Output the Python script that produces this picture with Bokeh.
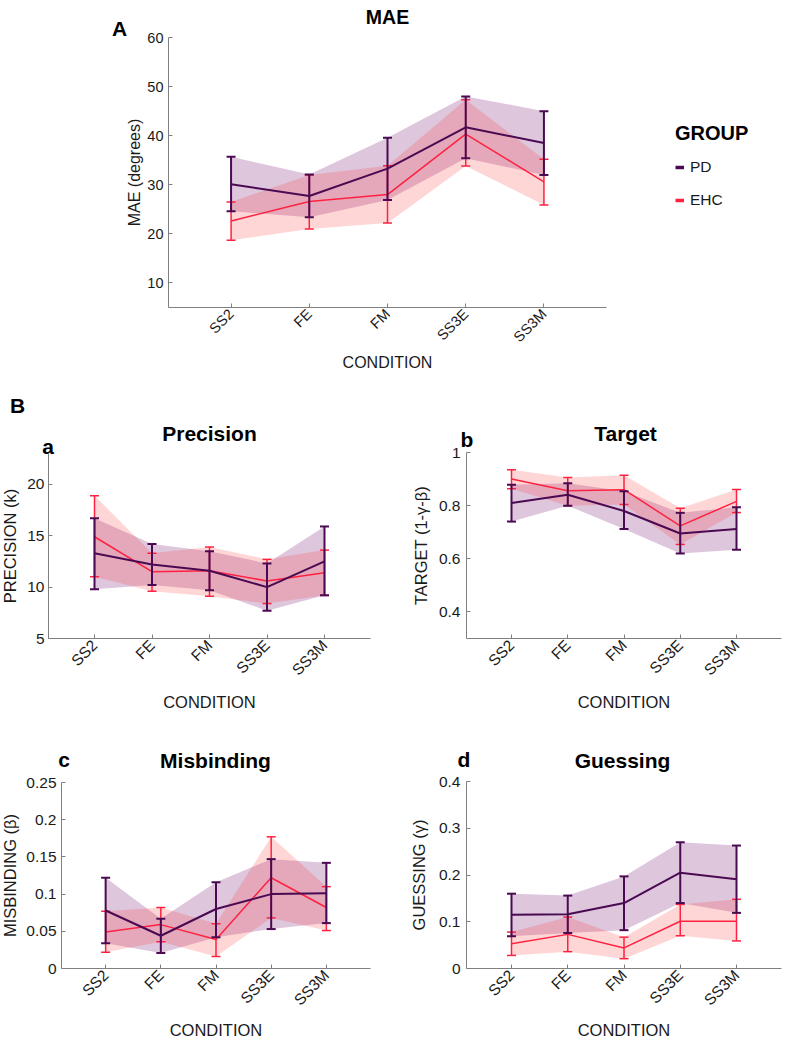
import math
from bokeh.plotting import figure
from bokeh.layouts import column, row
from bokeh.models import Label, Legend, LegendItem, FixedTicker, Range1d
from bokeh.embed import file_html
from bokeh.resources import INLINE

FONT = "Liberation Sans"

# ---------------- data ----------------
conditions = ["SS2", "FE", "FM", "SS3E", "SS3M"]
cond_x = [1, 2, 3, 4, 5]
x_lo, x_hi = 0.2, 5.8

# A: MAE (degrees)
mae_pd = [30.1, 27.7, 33.3, 41.7, 38.5]
mae_pd_lo = [24.6, 23.4, 26.9, 35.4, 32.0]
mae_pd_hi = [35.7, 32.1, 39.6, 48.0, 45.0]
mae_ehc = [22.6, 26.6, 28.0, 40.3, 30.6]
mae_ehc_lo = [18.7, 21.0, 22.2, 33.8, 25.9]
mae_ehc_hi = [26.5, 32.0, 33.9, 47.3, 35.2]
mae_ticks = [10, 20, 30, 40, 50, 60]
mae_tick_labels = ["10", "20", "30", "40", "50", "60"]

# a: Precision (k)
prec_pd = [13.3, 12.2, 11.6, 10.0, 12.5]
prec_pd_lo = [9.8, 10.2, 9.7, 7.7, 9.2]
prec_pd_hi = [16.7, 14.2, 13.5, 12.3, 15.9]
prec_ehc = [14.9, 11.5, 11.6, 10.6, 11.4]
prec_ehc_lo = [11.0, 9.6, 9.1, 8.4, 9.2]
prec_ehc_hi = [18.9, 13.3, 13.9, 12.7, 13.6]
prec_ticks = [5, 10, 15, 20]
prec_tick_labels = ["5", "10", "15", "20"]

# b: Target (1-γ-β)
targ_pd = [0.810, 0.841, 0.780, 0.695, 0.712]
targ_pd_lo = [0.740, 0.800, 0.712, 0.620, 0.634]
targ_pd_hi = [0.879, 0.884, 0.854, 0.773, 0.794]
targ_ehc = [0.900, 0.856, 0.860, 0.724, 0.816]
targ_ehc_lo = [0.864, 0.800, 0.804, 0.654, 0.774]
targ_ehc_hi = [0.935, 0.906, 0.914, 0.790, 0.861]
targ_ticks = [0.4, 0.6, 0.8, 1.0]
targ_tick_labels = ["0.4", "0.6", "0.8", "1"]

# c: Misbinding (β)
misb_pd = [0.078, 0.044, 0.080, 0.100, 0.101]
misb_pd_lo = [0.034, 0.021, 0.042, 0.053, 0.061]
misb_pd_hi = [0.122, 0.067, 0.116, 0.147, 0.142]
misb_ehc = [0.049, 0.059, 0.039, 0.122, 0.082]
misb_ehc_lo = [0.022, 0.036, 0.016, 0.068, 0.051]
misb_ehc_hi = [0.077, 0.082, 0.060, 0.177, 0.110]
misb_ticks = [0, 0.05, 0.1, 0.15, 0.2, 0.25]
misb_tick_labels = ["0", "0.05", "0.1", "0.15", "0.2", "0.25"]

# d: Guessing (γ)
gues_pd = [0.115, 0.116, 0.140, 0.205, 0.191]
gues_pd_lo = [0.069, 0.076, 0.082, 0.140, 0.119]
gues_pd_hi = [0.160, 0.156, 0.197, 0.270, 0.263]
gues_ehc = [0.053, 0.073, 0.044, 0.101, 0.101]
gues_ehc_lo = [0.028, 0.036, 0.021, 0.070, 0.059]
gues_ehc_hi = [0.078, 0.110, 0.067, 0.137, 0.148]
gues_ticks = [0, 0.1, 0.2, 0.3, 0.4]
gues_tick_labels = ["0", "0.1", "0.2", "0.3", "0.4"]

group_labels = ["PD", "EHC"]

# ---------------- styles ----------------
PD_LINE = "#4a0a52"
EHC_LINE = "#ff2240"
PD_FILL = "#7a1a78"
EHC_FILL = "#ff3030"
AXIS = "#808080"
TEXT = "#1a1a1a"
NAN = float("nan")


def pixel_range(v0, v1, px0, px1, total):
    """Range so that v0 lands at pixel px0 and v1 at px1 of a frame `total` px long."""
    k = (v1 - v0) / (px1 - px0)
    start = v0 - px0 * k
    return Range1d(start, start + total * k)


def make_panel(width, height, ax_left, ax_right, ax_top, ax_bottom, y_lo, y_hi,
               ticks, tick_labels, y_label, tick_size, label_size,
               ytick_standoff, ylab_standoff, xtick_standoff, xlab_standoff):
    # ax_* are pixel positions of the axes box measured from the canvas top-left
    xr = pixel_range(x_lo, x_hi, ax_left, ax_right, width)
    yr = pixel_range(y_lo, y_hi, height - ax_bottom, height - ax_top, height)
    p = figure(width=width, height=height, x_range=xr, y_range=yr,
               output_backend="svg", toolbar_location=None, title=None,
               min_border_left=0, min_border_right=0,
               min_border_top=0, min_border_bottom=0)
    p.outline_line_color = None
    p.xgrid.visible = False
    p.ygrid.visible = False
    p.background_fill_color = "white"
    p.border_fill_color = "white"

    xa = p.xaxis[0]
    xa.fixed_location = y_lo
    xa.bounds = (x_lo, x_hi)
    xa.ticker = FixedTicker(ticks=cond_x)
    xa.major_label_overrides = dict(zip(cond_x, conditions))
    xa.major_label_orientation = math.pi / 4
    xa.axis_label = "CONDITION"
    xa.major_label_standoff = xtick_standoff
    xa.axis_label_standoff = xlab_standoff

    ya = p.yaxis[0]
    ya.fixed_location = x_lo
    ya.bounds = (y_lo, y_hi)
    ya.ticker = FixedTicker(ticks=ticks)
    ya.major_label_overrides = dict(zip(ticks, tick_labels))
    ya.axis_label = y_label
    ya.major_label_standoff = ytick_standoff
    ya.axis_label_standoff = ylab_standoff

    for ax in (xa, ya):
        ax.axis_line_color = AXIS
        ax.axis_line_width = 1
        ax.major_tick_line_color = AXIS
        ax.major_tick_in = 4
        ax.major_tick_out = 0
        ax.minor_tick_line_color = None
        ax.major_label_text_font = FONT
        ax.major_label_text_font_size = tick_size
        ax.major_label_text_color = TEXT
        ax.axis_label_text_font = FONT
        ax.axis_label_text_font_size = label_size
        ax.axis_label_text_font_style = "normal"
        ax.axis_label_text_color = TEXT
    return p


def add_band(p, lo, hi, fill_color, fill_alpha):
    p.varea(x=cond_x, y1=lo, y2=hi, fill_color=fill_color, fill_alpha=fill_alpha)


def add_lines(p, mean, lo, hi, line_color, lw, cap_lw):
    p.line(x=cond_x, y=mean, line_color=line_color, line_width=lw)
    p.segment(x0=cond_x, y0=lo, x1=cond_x, y1=hi, line_color=line_color, line_width=cap_lw)
    p.scatter(x=cond_x, y=lo, marker="dash", size=9, line_color=line_color, line_width=cap_lw)
    p.scatter(x=cond_x, y=hi, marker="dash", size=9, line_color=line_color, line_width=cap_lw)


def draw(p, pd, pd_lo, pd_hi, ehc, ehc_lo, ehc_hi):
    add_band(p, pd_lo, pd_hi, PD_FILL, 0.25)
    add_band(p, ehc_lo, ehc_hi, EHC_FILL, 0.2)
    add_lines(p, ehc, ehc_lo, ehc_hi, EHC_LINE, 1.5, 1.5)
    add_lines(p, pd, pd_lo, pd_hi, PD_LINE, 2, 2)


def add_text(p, x, y, text, size):
    # x, y: screen pixels from the canvas bottom-left; y is the text baseline
    p.add_layout(Label(x=x, y=y, x_units="screen", y_units="screen", text=text,
                       text_align="center", text_baseline="alphabetic", text_font=FONT,
                       text_font_size=size, text_font_style="bold",
                       text_color="black"))


# ---------------- A: MAE ----------------
pA = make_panel(787, 373, 168, 606, 37, 307, 5, 60, mae_ticks, mae_tick_labels,
                "MAE (degrees)", "14.5px", "16px", 5, 1, 4, 0)
draw(pA, mae_pd, mae_pd_lo, mae_pd_hi, mae_ehc, mae_ehc_lo, mae_ehc_hi)
add_text(pA, 387, 357, "MAE", "19.5px")
add_text(pA, 119, 345, "A", "21px")

# invisible (all-NaN) renderers that only provide the legend swatches
leg_pd = pA.line(x=cond_x, y=[NAN] * len(cond_x), line_color=PD_LINE, line_width=3.5)
leg_ehc = pA.line(x=cond_x, y=[NAN] * len(cond_x), line_color=EHC_LINE, line_width=3.5)
legend = Legend(items=[LegendItem(label=group_labels[0], renderers=[leg_pd]),
                       LegendItem(label=group_labels[1], renderers=[leg_ehc])],
                location=(675, 163), title="GROUP",
                title_text_font=FONT, title_text_font_size="20px",
                title_text_font_style="bold", title_text_color="black",
                title_standoff=12,
                label_text_font=FONT, label_text_font_size="15.5px", label_text_color=TEXT,
                glyph_width=9, glyph_height=20, label_height=20, label_standoff=6,
                spacing=13, padding=0, margin=0, border_line_color=None,
                background_fill_alpha=0)
pA.add_layout(legend, "center")

# ---------------- a: Precision ----------------
pa = make_panel(405, 355, 48, 370, 80, 265, 5, 23, prec_ticks, prec_tick_labels,
                "PRECISION (k)", "15.5px", "16.5px", 4, 5, 4, 6)
draw(pa, prec_pd, prec_pd_lo, prec_pd_hi, prec_ehc, prec_ehc_lo, prec_ehc_hi)
add_text(pa, 209, 295, "Precision", "21px")
add_text(pa, 47.5, 282, "a", "21px")
add_text(pa, 17, 323, "B", "21px")

# ---------------- b: Target ----------------
pb = make_panel(382, 355, 61, 376, 79, 265, 0.3, 1.0, targ_ticks, targ_tick_labels,
                "TARGET (1-γ-β)", "15.5px", "16.5px", 6, 6, 4, 6)
draw(pb, targ_pd, targ_pd_lo, targ_pd_hi, targ_ehc, targ_ehc_lo, targ_ehc_hi)
add_text(pb, 220, 295, "Target", "21px")
add_text(pb, 61.5, 289, "b", "21px")

# ---------------- c: Misbinding ----------------
pc = make_panel(405, 312, 61, 370, 54, 240, 0, 0.25, misb_ticks, misb_tick_labels,
                "MISBINDING (β)", "15.5px", "16.5px", 5, 4, 4, 4)
draw(pc, misb_pd, misb_pd_lo, misb_pd_hi, misb_ehc, misb_ehc_lo, misb_ehc_hi)
add_text(pc, 215, 280, "Misbinding", "21px")
add_text(pc, 63.5, 281, "c", "21px")

# ---------------- d: Guessing ----------------
pd_ = make_panel(382, 312, 61, 376, 53, 240, 0, 0.4, gues_ticks, gues_tick_labels,
                 "GUESSING (γ)", "15.5px", "16.5px", 6, 8, 4, 4)
draw(pd_, gues_pd, gues_pd_lo, gues_pd_hi, gues_ehc, gues_ehc_lo, gues_ehc_hi)
add_text(pd_, 217, 280, "Guessing", "21px")
add_text(pd_, 58.5, 281, "d", "21px")

layout = column(pA, row(pa, pb), row(pc, pd_))

open("out.html", "w").write(file_html(layout, INLINE))
